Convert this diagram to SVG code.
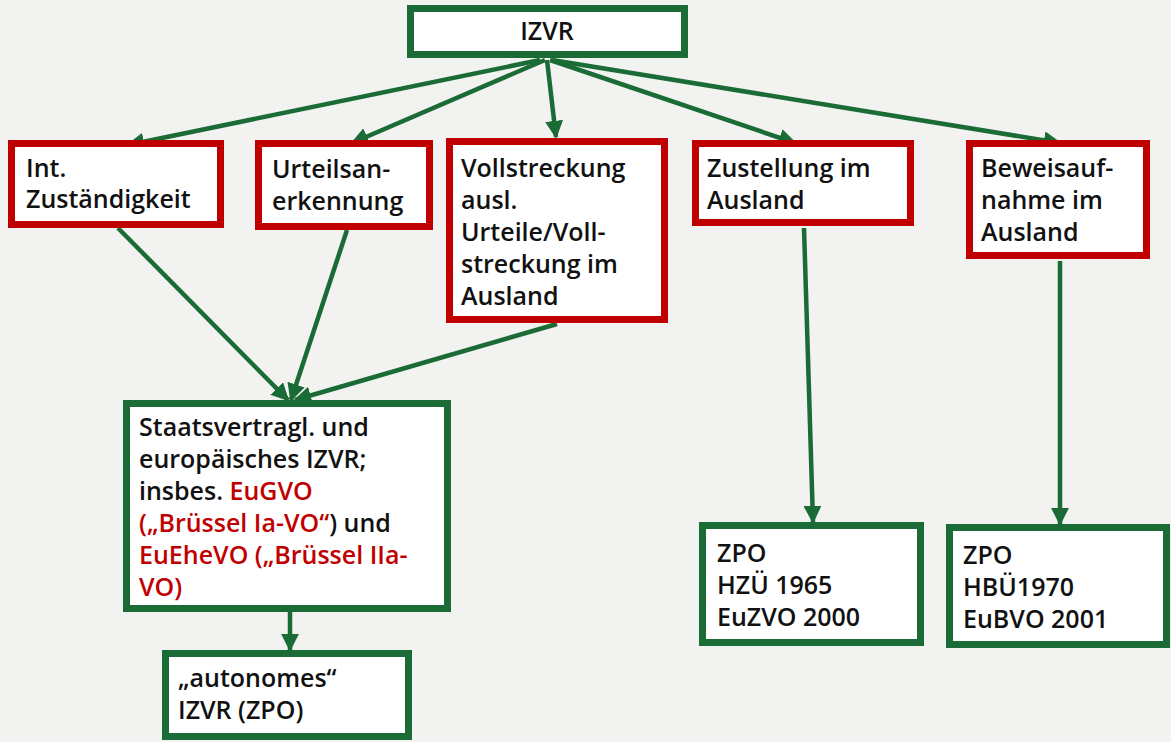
<svg xmlns="http://www.w3.org/2000/svg" width="1171" height="742" viewBox="0 0 1171 742">
<style>
.g{fill:#fff;stroke:#1a6b35;stroke-width:7}
.r{fill:#fff;stroke:#c00000;stroke-width:7}
text{font-family:"Open Sans","Noto Sans",sans-serif;font-weight:600;font-size:25px;fill:#111}
.c{font-size:25px;font-weight:600;font-stretch:95%}
.red{fill:#c00000}
.e{stroke:#1a6b35;stroke-width:4.5;fill:none;marker-end:url(#a)}
</style>
<defs>
<marker id="a" viewBox="0 0 10 10" refX="9" refY="5" markerWidth="4" markerHeight="4" orient="auto" markerUnits="strokeWidth">
<path d="M0,0 L10,5 L0,10 z" fill="#1a6b35"/>
</marker>
</defs>
<rect width="1171" height="742" fill="#f2f2f0"/>
<g id="connectors">
<line class="e" x1="540" y1="60" x2="128" y2="145"/>
<line class="e" x1="545" y1="60" x2="352" y2="143"/>
<line class="e" x1="547" y1="60" x2="556" y2="137"/>
<line class="e" x1="550" y1="60" x2="795" y2="143"/>
<line class="e" x1="552" y1="60" x2="1060" y2="143"/>
<line class="e" x1="118" y1="228" x2="288" y2="400"/>
<line class="e" x1="347" y1="230" x2="291" y2="400"/>
<line class="e" x1="557" y1="324" x2="295" y2="400"/>
<line class="e" x1="290" y1="612" x2="290" y2="650"/>
<line class="e" x1="804" y1="228" x2="813" y2="522"/>
<line class="e" x1="1060" y1="261" x2="1060" y2="524"/>
</g>
<g id="izvr">
<rect class="g" x="410.5" y="8.5" width="274" height="46"/>
<text x="547" y="40" text-anchor="middle">IZVR</text>
</g>
<g id="int">
<rect class="r" x="11.5" y="143.5" width="209" height="81"/>
<text x="26" y="177">Int.</text>
<text x="26" y="208">Zuständigkeit</text>
</g>
<g id="urteil">
<rect class="r" x="258.5" y="143.5" width="171" height="83"/>
<text x="272" y="178">Urteilsan-</text>
<text x="272" y="210">erkennung</text>
</g>
<g id="vollstreckung">
<rect class="r" x="449.5" y="141.5" width="215" height="178"/>
<text class="c" x="461" y="177">Vollstreckung</text>
<text class="c" x="461" y="209">ausl.</text>
<text class="c" x="461" y="241">Urteile/Voll-</text>
<text class="c" x="461" y="273">streckung im</text>
<text class="c" x="461" y="305">Ausland</text>
</g>
<g id="zustellung">
<rect class="r" x="695.5" y="143.5" width="215" height="79"/>
<text class="c" x="707" y="177">Zustellung im</text>
<text class="c" x="707" y="209">Ausland</text>
</g>
<g id="beweis">
<rect class="r" x="969.5" y="143.5" width="177" height="112"/>
<text class="c" x="981" y="177">Beweisauf-</text>
<text class="c" x="981" y="209">nahme im</text>
<text class="c" x="981" y="241">Ausland</text>
</g>
<g id="staat">
<rect class="g" x="126.5" y="403.5" width="321" height="205"/>
<text x="139" y="436">Staatsvertragl. und</text>
<text x="139" y="468">europäisches IZVR;</text>
<text x="139" y="500">insbes. <tspan class="red">EuGVO</tspan></text>
<text x="139" y="532"><tspan class="red">(„Brüssel Ia-VO“</tspan>) und</text>
<text x="139" y="564" class="red">EuEheVO („Brüssel IIa-</text>
<text x="139" y="596" class="red">VO)</text>
</g>
<g id="autonom">
<rect class="g" x="165.5" y="653.5" width="243" height="83"/>
<text x="178" y="687">„autonomes“</text>
<text x="178" y="719">IZVR (ZPO)</text>
</g>
<g id="zpo1">
<rect class="g" x="702.5" y="525.5" width="218" height="117"/>
<text x="717" y="562">ZPO</text>
<text x="717" y="594">HZÜ 1965</text>
<text x="717" y="626">EuZVO 2000</text>
</g>
<g id="zpo2">
<rect class="g" x="949.5" y="527.5" width="217" height="117"/>
<text x="963" y="564">ZPO</text>
<text x="963" y="596">HBÜ1970</text>
<text x="963" y="628">EuBVO 2001</text>
</g>
</svg>
